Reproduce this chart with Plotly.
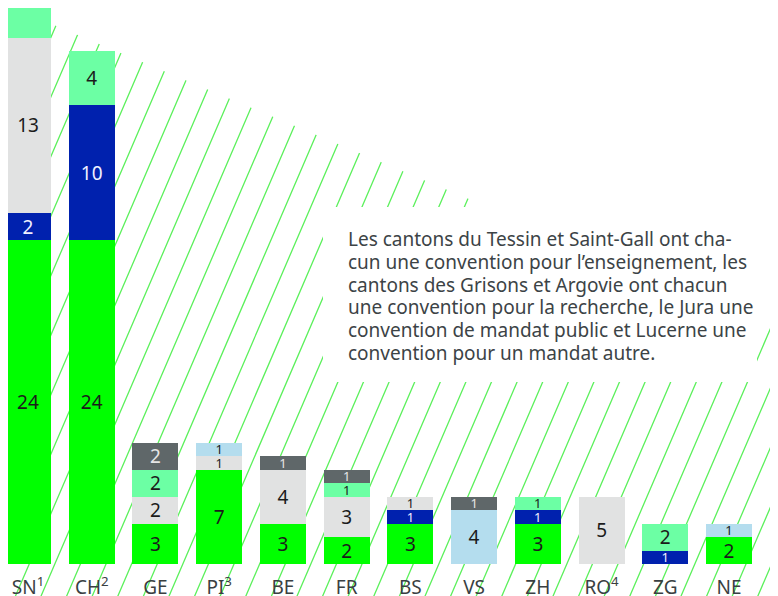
import plotly.graph_objects as go

# cantons and their labels on the x axis
cantons = ["SN", "CH", "GE", "PI", "BE", "FR", "BS", "VS", "ZH", "RO", "ZG", "NE"]
tick_labels = ["SN<sup>1</sup>", "CH<sup>2</sup>", "GE", "PI<sup>3</sup>", "BE", "FR",
               "BS", "VS", "ZH", "RO<sup>4</sup>", "ZG", "NE"]

# number of conventions per type, stacked bottom to top
green      = [24, 24, 3, 7, 3, 2, 3, 0, 3, 0, 0, 2]
blue       = [2, 10, 0, 0, 0, 0, 1, 0, 1, 0, 1, 0]
grey       = [13, 0, 2, 1, 4, 3, 1, 0, 0, 5, 0, 0]
mint       = [8, 4, 2, 0, 0, 1, 0, 0, 1, 0, 2, 0]
light_blue = [0, 0, 0, 1, 0, 0, 0, 4, 0, 0, 0, 1]
dark_grey  = [0, 0, 2, 0, 1, 1, 0, 1, 0, 0, 0, 0]

note_lines = [
    "Les cantons du Tessin et Saint-Gall ont cha-",
    "cun une convention pour l’enseignement, les",
    "cantons des Grisons et Argovie ont chacun",
    "une convention pour la recherche, le Jura une",
    "convention de mandat public et Lucerne une",
    "convention pour un mandat autre.",
]

# the page body has an 8px margin, so the figure is a bit smaller
OFF = 8
FW, FH = 778 - OFF, 596 - OFF
PB = 564 - OFF  # figure pixel row of the x axis
UNIT = 13.5     # pixels per convention
STEP = 63.73    # pixels between bar centres
FONT = "Noto Sans"

series = [
    (green, "#00ff00", "#1b1b1b"),
    (blue, "#0021ae", "#f0f0ff"),
    (grey, "#e1e2e2", "#1b1b1b"),
    (mint, "#6cffa4", "#1b1b1b"),
    (light_blue, "#b4ddee", "#1b1b1b"),
    (dark_grey, "#5f6769", "#e6e6e6"),
]

fig = go.Figure()
for vals, col, tcol in series:
    txt = [str(v) if v else "" for v in vals]
    # the SN top segment runs off the chart, its label is not shown
    if vals is mint:
        txt[0] = ""
    fig.add_trace(go.Bar(
        x=cantons, y=vals, marker=dict(color=col, line=dict(width=0)),
        text=txt, textposition="inside", insidetextanchor="middle",
        constraintext="none", textangle=0,
        textfont=dict(family=FONT, color=tcol,
                      size=[13 if v == 1 else 19 for v in vals]),
        showlegend=False, hoverinfo="skip",
    ))


# background hatching, measured in page pixels then mapped to paper coords
def px(x):
    return (x - OFF) / FW


def py(y):
    return (PB - (y - OFF)) / PB


slant = 0.43
path = ""
for k in range(-20, 22):
    x_top = 504.3 + 25.6 * k
    path += "M%.5f,%.5f L%.5f,%.5f " % (px(x_top), py(-5), px(x_top - slant * 605), py(600))

shapes = [
    dict(type="path", path=path, xref="paper", yref="paper", layer="below",
         line=dict(color="#5cf05c", width=1.3)),
    # white area above the diagonal edge of the hatching
    dict(type="path", xref="paper", yref="paper", layer="below",
         path="M%.5f,%.5f L%.5f,%.5f L%.5f,%.5f L%.5f,%.5f Z" % (
             px(-10), py(-10), px(-10), py(2.36 - 0.4192 * 10),
             px(800), py(2.36 + 0.4192 * 800), px(800), py(-10)),
         fillcolor="white", line=dict(width=0)),
    # white box behind the note
    dict(type="rect", xref="paper", yref="paper", layer="below",
         x0=px(323), x1=px(757), y0=py(382), y1=py(207),
         fillcolor="white", line=dict(width=0)),
]

for i, line in enumerate(note_lines):
    fig.add_annotation(
        text=line, xref="paper", yref="paper", x=px(346), y=py(239 + 22.8 * i),
        xanchor="left", yanchor="middle", showarrow=False,
        font=dict(family=FONT, size=19, color="#3c4346"),
    )

left = -(28 - OFF) / STEP
fig.update_layout(
    width=FW, height=FH, barmode="stack", bargap=0.278,
    margin=dict(l=0, r=0, t=0, b=FH - PB, pad=0, autoexpand=False),
    paper_bgcolor="white", plot_bgcolor="rgba(0,0,0,0)",
    shapes=shapes,
    xaxis=dict(range=[left, left + FW / STEP], tickvals=cantons, ticktext=tick_labels,
               showgrid=False, zeroline=False, showline=False, ticks="",
               automargin=False, ticklabelstandoff=10,
               tickfont=dict(family=FONT, size=19, color="#3a3f42")),
    yaxis=dict(range=[0, PB / UNIT], visible=False, showgrid=False),
)

fig.write_html("out.html")
